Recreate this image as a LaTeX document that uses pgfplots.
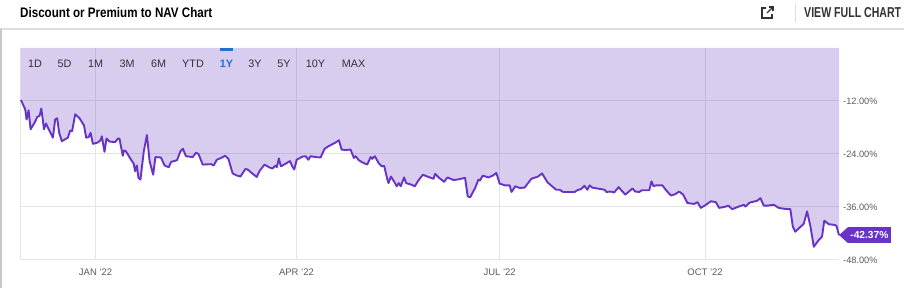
\documentclass[border=0pt]{standalone}
\usepackage{pgfplots}
\pgfplotsset{compat=1.18}
\usepackage{pgfplotstable}
\usepackage{fontspec}
\setmainfont{Liberation Sans}
\usepackage{graphicx}
\definecolor{navline}{RGB}{104,52,200}
\definecolor{navfill}{RGB}{100,50,190}
\definecolor{gridgray}{RGB}{229,229,229}
\definecolor{ticktext}{RGB}{90,90,90}
\definecolor{btntext}{RGB}{50,50,50}
\definecolor{btnblue}{RGB}{30,115,210}
\definecolor{sepgray}{RGB}{222,222,222}
\definecolor{bordergray}{RGB}{200,200,200}

\pgfplotstableread{
day val
-33.4 -11.8
-31.5 -13.9
-30.9 -16.2
-30.0 -14.1
-29.1 -18.4
-27.3 -16.9
-26.1 -15.6
-25.1 -15.4
-24.3 -13.7
-23.1 -18.4
-22.2 -17.1
-20.6 -18.8
-19.1 -20.3
-18.1 -16.2
-17.2 -15.9
-16.3 -19.2
-15.1 -21.1
-12.4 -20.3
-11.4 -18.7
-10.5 -18.8
-9.1 -15.0
-7.2 -15.9
-5.2 -17.5
-4.2 -20.3
-3.1 -20.2
-2.2 -19.2
-1.2 -21.7
1.0 -21.4
2.2 -20.9
2.8 -20.0
4.0 -23.5
4.9 -20.5
6.3 -21.2
8.8 -21.3
10.0 -20.5
10.7 -20.5
12.2 -24.4
12.7 -23.2
13.6 -23.4
15.9 -25.3
17.1 -26.2
17.7 -27.9
18.5 -26.6
19.2 -29.4
20.1 -29.8
21.6 -23.4
23.0 -19.7
24.2 -25.6
25.8 -28.7
26.8 -24.7
29.3 -24.8
30.9 -26.6
32.8 -27.0
33.8 -25.8
36.5 -25.4
38.0 -23.4
39.1 -22.8
40.5 -24.5
43.5 -24.7
45.0 -23.7
46.1 -24.0
48.0 -26.4
51.7 -26.3
52.9 -26.6
54.3 -25.3
56.2 -24.9
58.0 -24.4
59.5 -25.1
61.4 -28.4
62.9 -28.8
64.9 -29.1
67.1 -27.4
68.1 -27.5
70.4 -28.5
72.2 -29.2
73.5 -27.8
75.7 -26.4
77.7 -27.0
79.2 -27.3
80.7 -26.6
81.2 -27.0
82.1 -25.0
83.0 -26.8
85.1 -26.2
87.1 -25.6
88.1 -26.8
89.0 -27.5
90.1 -25.3
92.6 -24.6
94.1 -24.5
95.3 -25.3
96.3 -24.5
98.6 -24.7
100.8 -24.8
102.6 -22.8
104.5 -22.2
107.5 -21.4
109.0 -20.9
110.2 -23.0
112.0 -23.1
114.2 -23.0
115.7 -24.9
116.5 -24.5
117.9 -25.4
119.5 -25.9
121.7 -26.4
123.2 -24.7
123.9 -25.1
125.1 -24.5
126.7 -26.0
128.2 -26.8
129.3 -26.7
130.5 -29.4
131.2 -30.6
132.3 -29.1
133.8 -30.3
134.9 -31.3
135.8 -30.6
136.7 -31.3
138.2 -29.3
139.1 -30.6
141.2 -30.9
143.0 -31.3
144.6 -30.0
146.6 -28.7
149.1 -29.2
151.4 -29.6
152.1 -28.5
153.9 -29.4
156.1 -30.3
157.6 -29.3
160.3 -29.9
163.0 -29.7
165.5 -29.4
166.7 -33.6
167.8 -33.8
170.0 -31.7
171.5 -29.8
172.2 -30.0
173.4 -28.9
176.0 -29.3
177.9 -28.9
179.5 -28.3
181.0 -30.7
183.3 -31.1
185.5 -31.1
186.3 -32.6
188.0 -31.3
190.0 -31.7
192.2 -31.6
194.0 -30.4
195.2 -29.6
198.2 -29.1
200.0 -28.4
202.4 -30.4
204.9 -31.5
206.4 -32.1
207.9 -32.1
209.4 -32.6
214.6 -32.6
215.8 -32.2
217.6 -31.9
219.0 -31.2
220.3 -32.1
221.3 -31.1
222.4 -31.6
225.8 -31.9
228.0 -32.1
228.8 -32.6
230.7 -32.5
232.3 -32.7
234.3 -31.5
235.3 -32.1
237.3 -33.2
240.5 -31.8
241.7 -32.5
243.5 -32.6
244.7 -32.2
248.0 -32.2
249.0 -30.2
249.9 -31.3
251.0 -31.1
253.9 -31.1
255.7 -32.3
257.7 -33.4
259.6 -33.1
261.4 -32.5
263.2 -33.2
265.1 -35.1
268.1 -35.3
269.6 -34.9
271.1 -36.2
273.4 -35.5
275.6 -34.7
277.8 -34.9
279.3 -36.2
281.6 -36.0
283.5 -35.7
285.1 -36.5
288.1 -35.9
290.4 -35.5
291.1 -35.9
293.0 -35.0
296.3 -34.6
297.8 -34.0
299.3 -35.7
300.8 -35.7
303.8 -35.5
306.0 -36.2
308.3 -36.4
311.2 -36.5
312.3 -40.4
313.4 -41.6
317.2 -39.8
318.7 -37.0
320.2 -40.4
321.7 -45.0
323.9 -43.5
325.4 -42.7
326.4 -39.1
328.4 -39.9
330.3 -40.0
331.8 -40.2
333.0 -42.37
}\navdata

\begin{document}
\begin{tikzpicture}
\useasboundingbox (0,0) rectangle (904pt,288pt);
% header
\node[anchor=west, inner sep=0pt] at (20pt,275pt) {\resizebox{192pt}{10pt}{\bfseries Discount or Premium to NAV Chart}};
\node[anchor=west, inner sep=0pt, text=btntext] at (804pt,275pt) {\resizebox{97pt}{10pt}{\bfseries VIEW FULL CHART}};
\draw[btntext, line width=1.1pt] (766pt,280pt) -- (762pt,280pt) -- (762pt,270pt) -- (772pt,270pt) -- (772pt,274pt);
\draw[btntext, line width=1.1pt] (767pt,275pt) -- (773pt,281pt);
\draw[btntext, line width=1.1pt] (769pt,281pt) -- (773pt,281pt) -- (773pt,277pt);
\draw[sepgray, line width=1pt] (795pt,266pt) -- (795pt,284pt);
\draw[sepgray, line width=1.5pt] (0pt,259pt) -- (904pt,259pt);
\draw[bordergray, line width=2pt] (1pt,0pt) -- (1pt,259pt);

\begin{axis}[
  at={(21pt,28pt)}, anchor=south west,
  scale only axis, width=818pt, height=212pt,
  xmin=-33.4, xmax=333, ymin=-48, ymax=0,
  clip=false,
  axis line style={draw=none},
  xtick={0,90,181,273},
  xticklabels={JAN '22,APR '22,JUL '22,OCT '22},
  extra x ticks={-33.4}, extra x tick labels={},
  extra x tick style={grid=major, major grid style={gridgray, line width=1pt}},
  ytick={-48,-36,-24,-12},
  yticklabels={-48.00\%,-36.00\%,-24.00\%,-12.00\%},
  yticklabel pos=right,
  major tick length=0pt,
  grid=major,
  major grid style={gridgray, line width=1pt},
  xticklabel style={font=\fontsize{9.5}{11}\selectfont, text=ticktext, anchor=north, inner sep=0pt, yshift=-8.5pt},
  yticklabel style={font=\fontsize{9.2}{11}\selectfont, text=ticktext, anchor=west, inner sep=0pt, xshift=4pt},
]
\addplot[draw=none, fill=navfill, fill opacity=0.25] table[x=day, y=val] {\navdata} \closedcycle;
\addplot[navline, line width=1.9pt, line join=round] table[x=day, y=val] {\navdata};
\fill[navline] (axis cs:333,-42.37) -- ([xshift=9pt,yshift=8pt]axis cs:333,-42.37) -- ([xshift=9pt,yshift=-8pt]axis cs:333,-42.37) -- cycle;
\node[fill=navline, text=white, anchor=west, inner xsep=2.5pt, inner ysep=0pt, minimum height=16pt, font=\bfseries\fontsize{10.2}{12}\selectfont] at ([xshift=8.7pt]axis cs:333,-42.37) {-42.37\%};
\end{axis}

% range selector
\fill[btnblue] (220pt,237pt) rectangle (233pt,240pt);
\begin{scope}[every node/.style={inner sep=0pt, font=\fontsize{10.8}{12}\selectfont, text=btntext}]
\node at (35pt,224pt) {1D};
\node at (64.5pt,224pt) {5D};
\node at (95.5pt,224pt) {1M};
\node at (127pt,224pt) {3M};
\node at (158.5pt,224pt) {6M};
\node at (193pt,224pt) {YTD};
\node[text=btnblue] at (226.5pt,224pt) {\bfseries 1Y};
\node at (255pt,224pt) {3Y};
\node at (284pt,224pt) {5Y};
\node at (315.5pt,224pt) {10Y};
\node at (353.5pt,224pt) {MAX};
\end{scope}
\end{tikzpicture}
\end{document}
